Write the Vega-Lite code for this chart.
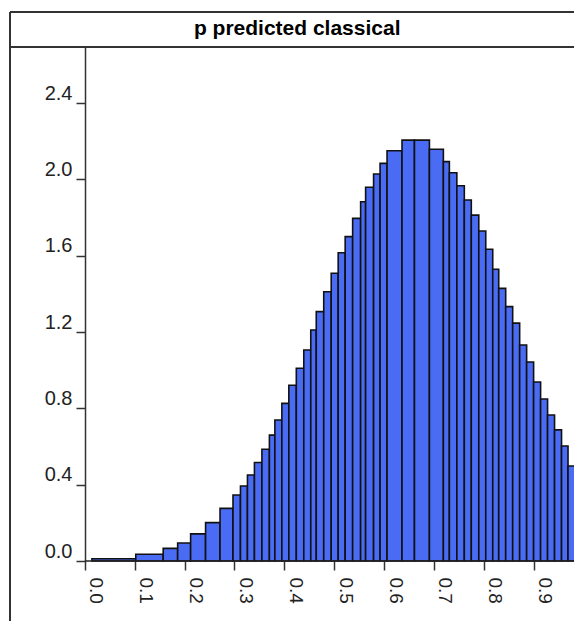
{
  "$schema": "https://vega.github.io/schema/vega-lite/v6.json",
  "autosize": {"type": "none"},
  "padding": {"left": 10, "top": 47, "right": 0, "bottom": 60},
  "width": 564,
  "height": 514,
  "background": "white",
  "config": {"view": {"stroke": null}},
  "datasets": {
    "bars": [
      {"x0": 0.014, "x1": 0.102, "d": 0.012},
      {"x0": 0.102, "x1": 0.157, "d": 0.035},
      {"x0": 0.157, "x1": 0.186, "d": 0.066},
      {"x0": 0.186, "x1": 0.212, "d": 0.094},
      {"x0": 0.212, "x1": 0.242, "d": 0.142},
      {"x0": 0.242, "x1": 0.271, "d": 0.201},
      {"x0": 0.271, "x1": 0.297, "d": 0.276},
      {"x0": 0.297, "x1": 0.312, "d": 0.346},
      {"x0": 0.312, "x1": 0.326, "d": 0.393},
      {"x0": 0.326, "x1": 0.340, "d": 0.451},
      {"x0": 0.340, "x1": 0.355, "d": 0.516},
      {"x0": 0.355, "x1": 0.370, "d": 0.586},
      {"x0": 0.370, "x1": 0.381, "d": 0.660},
      {"x0": 0.381, "x1": 0.395, "d": 0.739},
      {"x0": 0.395, "x1": 0.409, "d": 0.826},
      {"x0": 0.409, "x1": 0.424, "d": 0.921},
      {"x0": 0.424, "x1": 0.439, "d": 1.010},
      {"x0": 0.439, "x1": 0.453, "d": 1.106},
      {"x0": 0.453, "x1": 0.464, "d": 1.211},
      {"x0": 0.464, "x1": 0.479, "d": 1.307},
      {"x0": 0.479, "x1": 0.494, "d": 1.411},
      {"x0": 0.494, "x1": 0.508, "d": 1.508},
      {"x0": 0.508, "x1": 0.522, "d": 1.616},
      {"x0": 0.522, "x1": 0.537, "d": 1.700},
      {"x0": 0.537, "x1": 0.553, "d": 1.796},
      {"x0": 0.553, "x1": 0.563, "d": 1.883},
      {"x0": 0.563, "x1": 0.579, "d": 1.959},
      {"x0": 0.579, "x1": 0.592, "d": 2.028},
      {"x0": 0.592, "x1": 0.606, "d": 2.084},
      {"x0": 0.606, "x1": 0.636, "d": 2.150},
      {"x0": 0.636, "x1": 0.661, "d": 2.206},
      {"x0": 0.661, "x1": 0.691, "d": 2.206},
      {"x0": 0.691, "x1": 0.719, "d": 2.158},
      {"x0": 0.719, "x1": 0.731, "d": 2.093},
      {"x0": 0.731, "x1": 0.746, "d": 2.035},
      {"x0": 0.746, "x1": 0.761, "d": 1.967},
      {"x0": 0.761, "x1": 0.775, "d": 1.892},
      {"x0": 0.775, "x1": 0.790, "d": 1.813},
      {"x0": 0.790, "x1": 0.804, "d": 1.730},
      {"x0": 0.804, "x1": 0.818, "d": 1.634},
      {"x0": 0.818, "x1": 0.830, "d": 1.529},
      {"x0": 0.830, "x1": 0.844, "d": 1.429},
      {"x0": 0.844, "x1": 0.858, "d": 1.333},
      {"x0": 0.858, "x1": 0.872, "d": 1.247},
      {"x0": 0.872, "x1": 0.886, "d": 1.132},
      {"x0": 0.886, "x1": 0.900, "d": 1.043},
      {"x0": 0.900, "x1": 0.914, "d": 0.938},
      {"x0": 0.914, "x1": 0.928, "d": 0.849},
      {"x0": 0.928, "x1": 0.942, "d": 0.765},
      {"x0": 0.942, "x1": 0.956, "d": 0.687},
      {"x0": 0.956, "x1": 0.969, "d": 0.603},
      {"x0": 0.969, "x1": 0.992, "d": 0.498}
    ],
    "title": [{"label": "p predicted classical"}]
  },
  "layer": [
    {
      "data": {"name": "bars"},
      "mark": {"type": "bar", "fill": "#4a6cf4", "stroke": "#111111", "strokeWidth": 1.6},
      "encoding": {
        "x": {
          "field": "x0",
          "type": "quantitative",
          "scale": {"domain": [-0.1503, 0.981], "nice": false, "zero": false},
          "axis": {
            "title": null,
            "domain": false,
            "values": [0, 0.1, 0.2, 0.3, 0.4, 0.5, 0.6, 0.7, 0.8, 0.9],
            "format": ".1f",
            "grid": false,
            "tickSize": 9,
            "tickColor": "#333333",
            "tickWidth": 1.5,
            "labelAngle": 90,
            "labelAlign": "left",
            "labelBaseline": "alphabetic",
            "labelOffset": 5,
            "labelPadding": 7,
            "labelFont": "Liberation Sans",
            "labelFontSize": 19,
            "labelColor": "#222222"
          }
        },
        "x2": {"field": "x1"},
        "y": {
          "field": "d",
          "type": "quantitative",
          "scale": {"domain": [0, 2.694], "nice": false},
          "axis": {
            "title": null,
            "offset": -75,
            "domain": true,
            "domainColor": "#333333",
            "domainWidth": 1.5,
            "values": [0, 0.4, 0.8, 1.2, 1.6, 2.0, 2.4],
            "format": ".1f",
            "grid": false,
            "tickSize": 9,
            "tickColor": "#333333",
            "tickWidth": 1.5,
            "labelAlign": "right",
            "labelBaseline": "alphabetic",
            "labelOffset": -4,
            "labelPadding": 4,
            "labelFont": "Liberation Sans",
            "labelFontSize": 20,
            "labelColor": "#222222"
          }
        },
        "y2": {"datum": 0}
      }
    },
    {
      "data": {"values": [{}]},
      "mark": {"type": "rule", "stroke": "#222222", "strokeWidth": 1.5},
      "encoding": {"y": {"datum": 0, "type": "quantitative"}, "x": {"datum": 0, "type": "quantitative"}, "x2": {"datum": 0.981}}
    },
    {
      "data": {"values": [{}]},
      "mark": {"type": "rule", "stroke": "#333333", "strokeWidth": 2},
      "encoding": {"y": {"datum": 2.877, "type": "quantitative"}}
    },
    {
      "data": {"values": [{}]},
      "mark": {"type": "rule", "stroke": "#333333", "strokeWidth": 2},
      "encoding": {"y": {"datum": 2.694, "type": "quantitative"}}
    },
    {
      "data": {"values": [{}]},
      "mark": {"type": "rule", "stroke": "#333333", "strokeWidth": 2},
      "encoding": {"x": {"datum": -0.1503, "type": "quantitative"}, "y": {"datum": 2.877, "type": "quantitative"}, "y2": {"datum": -0.4}}
    },
    {
      "data": {"name": "title"},
      "mark": {"type": "text", "align": "center", "baseline": "middle", "font": "Liberation Sans", "fontSize": 21, "fontWeight": "bold", "fill": "#000000"},
      "encoding": {
        "text": {"field": "label"},
        "x": {"datum": 0.4258, "type": "quantitative"},
        "y": {"datum": 2.786, "type": "quantitative"}
      }
    }
  ]
}
